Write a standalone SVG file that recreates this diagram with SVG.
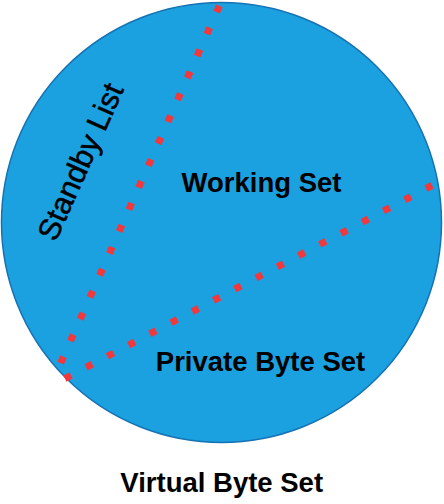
<svg xmlns="http://www.w3.org/2000/svg" width="444" height="504" viewBox="0 0 444 504">
<style>
.lbl{font-family:"Liberation Sans",Arial,sans-serif;font-size:27.5px;font-weight:bold;fill:#000;text-anchor:middle}
.lbl2{font-family:"Liberation Sans",Arial,sans-serif;font-size:30.5px;fill:#000;stroke:#000;stroke-width:0.5;text-anchor:middle}
.dot{fill:none;stroke:#f2383c;stroke-width:7;stroke-dasharray:7 17}
</style>
<rect width="444" height="504" fill="#fff"/>
<g id="virtual-byte-set">
<circle cx="221.5" cy="222.5" r="220" fill="#1ba0e0" stroke="#1672b2" stroke-width="1.5"/>
<text class="lbl" x="221.7" y="492">Virtual Byte Set</text>
</g>
<g id="connectors">
<path class="dot" d="M219.4 5.8 L60.6 363.2"/>
<path class="dot" d="M64.9 378.6 L432.1 185.4"/>
</g>
<g id="working-set">
<text class="lbl" x="261.5" y="192">Working Set</text>
</g>
<g id="private-byte-set">
<text class="lbl" x="260.5" y="371">Private Byte Set</text>
</g>
<g id="standby-list">
<text class="lbl2" transform="translate(90 166) rotate(-66)">Standby List</text>
</g>
</svg>
